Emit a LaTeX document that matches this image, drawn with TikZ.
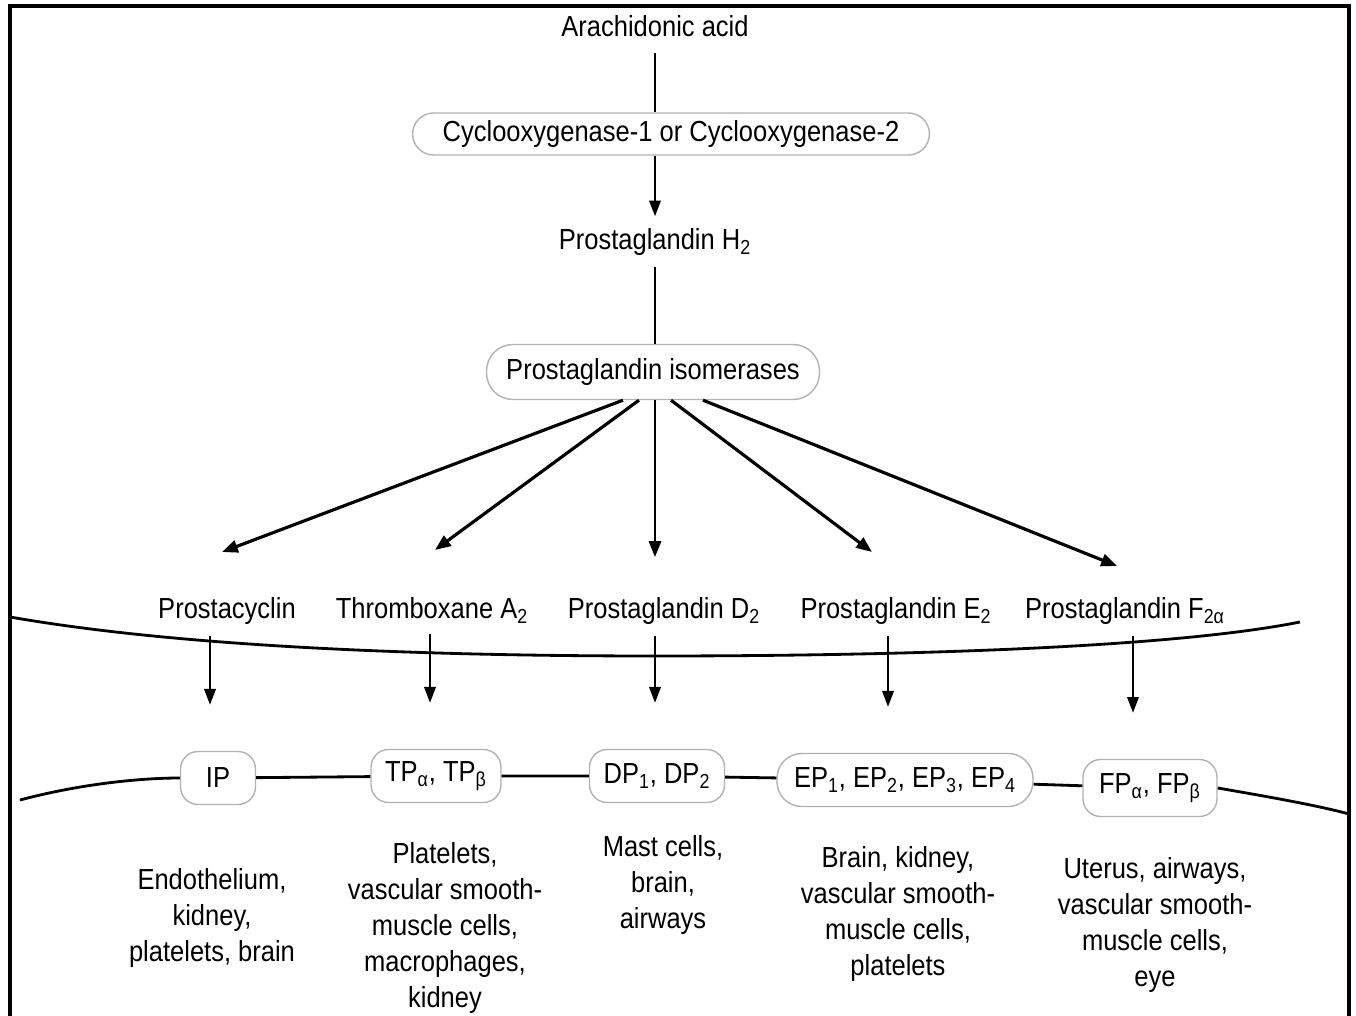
\documentclass[tikz,border=0pt]{standalone}
\usepackage{fontspec}
\setmainfont{Liberation Sans}[FakeStretch=0.88]
\usetikzlibrary{arrows.meta,positioning,calc}
\tikzset{
  enzbox/.style={draw=black!30, line width=0.8pt, align=center, inner sep=2pt, fill=white},
  recbox/.style={draw=black!30, line width=0.8pt, rounded corners=10pt, align=center, minimum height=1.06cm, inner sep=2pt, fill=white},
  plain/.style={align=center, inner sep=1pt},
  stem/.style={line width=1.3pt},
  membrane/.style={line width=1.6pt},
  fanarrow/.style={-{Triangle[length=9pt,width=7pt]}, line width=1.8pt},
  downarrow/.style={-{Triangle[length=9pt,width=6.5pt]}, line width=1.3pt}
}
\begin{document}
\begin{tikzpicture}[x=0.02cm, y=-0.02cm, font=\fontsize{16.5}{20.5}\selectfont]
\useasboundingbox (0,0) rectangle (1356,1016);
% frame, open at the bottom
\draw[line width=1.8pt] (10,1016) -- (10,6) -- (1349,6) -- (1349,1016);

% synthesis
\node[plain, anchor=base] (aa) at (655,37) {Arachidonic acid};
\node[enzbox, minimum width=10.34cm, minimum height=0.84cm, rounded corners=12pt] (cox) at (671,134) {Cyclooxygenase-1 or Cyclooxygenase-2};
\node[plain, anchor=base] (pgh) at (655,250) {Prostaglandin H\textsubscript{2}};
\node[enzbox, minimum width=6.66cm, minimum height=1.1cm, rounded corners=15pt] (iso) at (653,372) {Prostaglandin isomerases};

\draw[stem, shorten <=8pt] (aa) -- (aa |- cox.north);
\draw[downarrow, shorten >=6pt] (cox.south -| aa) -- (aa |- pgh.north);
\draw[stem, shorten <=5pt] (pgh.south -| aa) -- (aa |- iso.north);

% products
\node[plain, anchor=base] (pgi) at (227,619) {Prostacyclin};
\node[plain, anchor=base] (txa) at (432,619) {Thromboxane A\textsubscript{2}};
\node[plain, anchor=base] (pgd) at (664,619) {Prostaglandin D\textsubscript{2}};
\node[plain, anchor=base] (pge) at (896,619) {Prostaglandin E\textsubscript{2}};
\node[plain, anchor=base] (pgf) at (1125,619) {Prostaglandin F\textsubscript{2α}};

\coordinate (tipA) at (222,552);
\coordinate (tipB) at (435,550);
\coordinate (tipC) at (655,557);
\coordinate (tipD) at (872,552);
\coordinate (tipE) at (1117,566);
\draw[fanarrow] ($(iso.south)+(-30,0)$) -- (tipA);
\draw[fanarrow] ($(iso.south)+(-14,0)$) -- (tipB);
\draw[fanarrow, line width=1.3pt] ($(iso.south)+(2,0)$) -- (tipC);
\draw[fanarrow] ($(iso.south)+(18,0)$) -- (tipD);
\draw[fanarrow] ($(iso.south)+(50,0)$) -- (tipE);

% outer membrane
\draw[membrane] (10,617) .. controls (170,645) and (400,656) .. (655,656)
  .. controls (900,656) and (1170,648) .. (1300,622);

% receptors
\node[recbox, minimum width=1.5cm] (ip) at (218,778) {IP};
\node[recbox, minimum width=2.6cm] (tp) at (436,776) {TP\textsubscript{α}, TP\textsubscript{β}};
\node[recbox, minimum width=2.7cm] (dp) at (657,776) {DP\textsubscript{1}, DP\textsubscript{2}};
\node[recbox, minimum width=5.12cm, rounded corners=14pt] (ep) at (905,780) {EP\textsubscript{1}, EP\textsubscript{2}, EP\textsubscript{3}, EP\textsubscript{4}};
\node[recbox, minimum width=2.68cm, minimum height=1.14cm] (fp) at (1150,788) {FP\textsubscript{α}, FP\textsubscript{β}};

\foreach \m/\r/\x in {pgi/ip/210, txa/tp/430, pgd/dp/655, pge/ep/888, pgf/fp/1133}
  \draw[downarrow, shorten <=5pt, shorten >=0.92cm] (\m.south -| \x,0) -- (\x,0 |- \r.north);

% inner membrane
\draw[membrane] (20,800) .. controls (80,784) and (140,778) .. (ip.west);
\draw[membrane] (ip) -- (tp) -- (dp) -- (ep) -- (fp);
\draw[membrane] (fp.east) .. controls (1270,797) and (1320,806) .. (1349,814);

% tissues
\node[plain] (t1) at (212,918) {Endothelium,\\kidney,\\platelets, brain};
\node[plain] (t2) at (445,928) {Platelets,\\vascular smooth-\\muscle cells,\\macrophages,\\kidney};
\node[plain] (t3) at (663,885) {Mast cells,\\brain,\\airways};
\node[plain] (t4) at (898,914) {Brain, kidney,\\vascular smooth-\\muscle cells,\\platelets};
\node[plain] (t5) at (1155,925) {Uterus, airways,\\vascular smooth-\\muscle cells,\\eye};
\end{tikzpicture}
\end{document}
